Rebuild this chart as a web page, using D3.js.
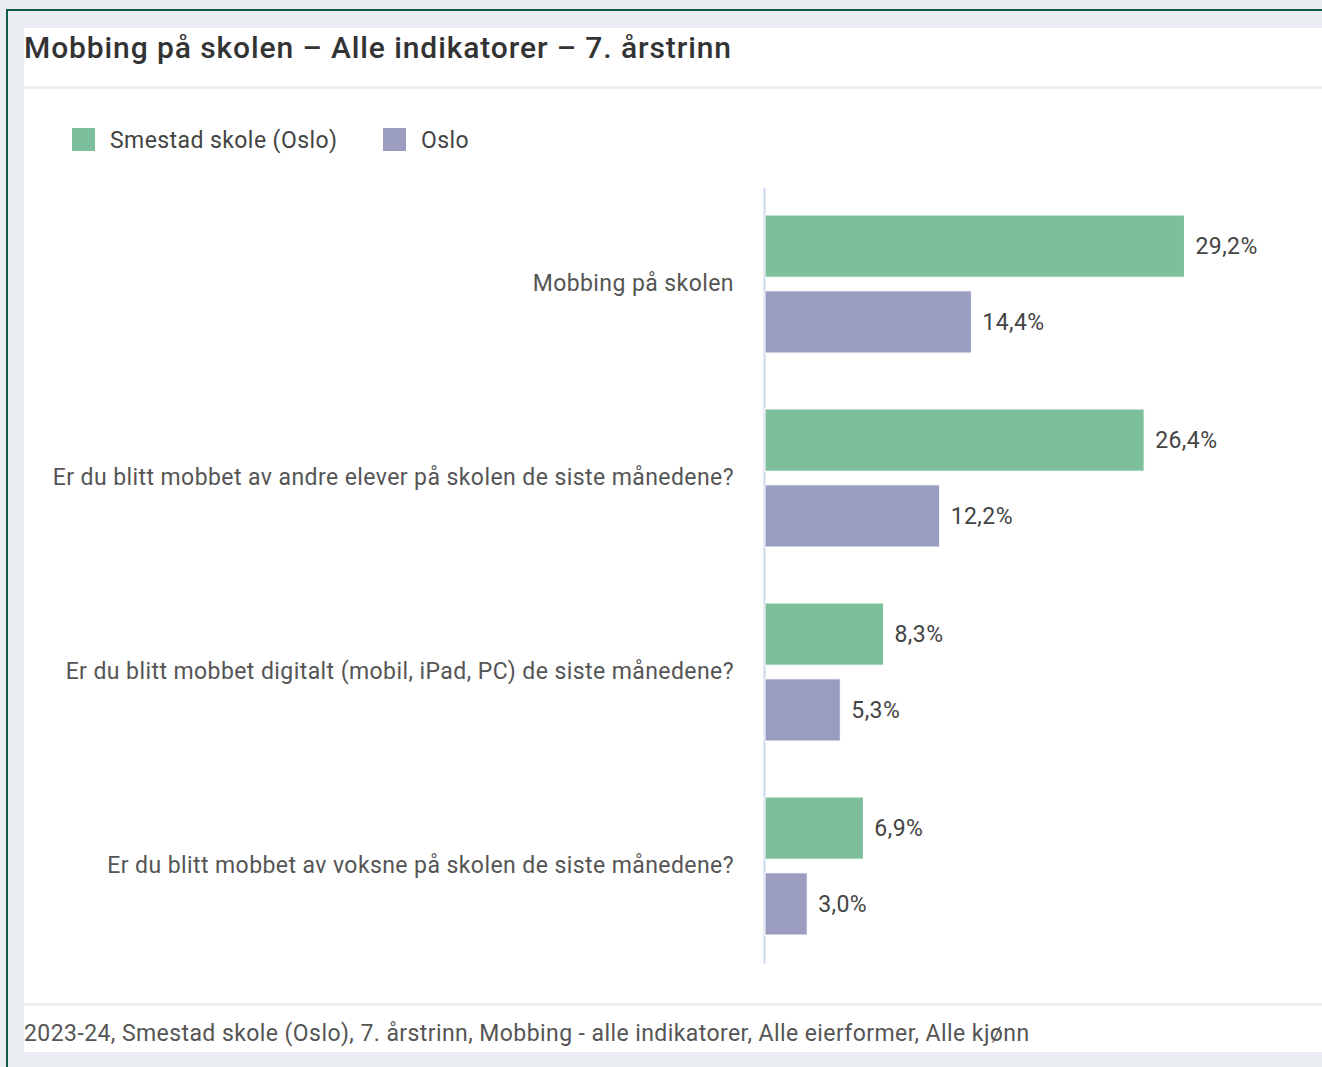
<!DOCTYPE html>
<meta charset="utf-8">
<script src="https://d3js.org/d3.v7.min.js"></script>
<style>
  body { margin: 0; background: #e9edf1; font-family: Roboto, "Noto Sans", sans-serif; }
</style>
<div id="chart"></div>
<script>
// data
var categories = [
  "Mobbing på skolen",
  "Er du blitt mobbet av andre elever på skolen de siste månedene?",
  "Er du blitt mobbet digitalt (mobil, iPad, PC) de siste månedene?",
  "Er du blitt mobbet av voksne på skolen de siste månedene?"
];
var seriesNames = ["Smestad skole (Oslo)", "Oslo"];
var schoolValues = [29.2, 26.4, 8.3, 6.9];
var osloValues = [14.4, 12.2, 5.3, 3.0];
var colors = ["#7dbf9b", "#9a9cc0"];

var titleText = "Mobbing på skolen – Alle indikatorer – 7. årstrinn";
var footerText = "2023-24, Smestad skole (Oslo), 7. årstrinn, Mobbing - alle indikatorer, Alle eierformer, Alle kjønn";

var W = 1322, H = 1067;
var ls = 0.42; // letter spacing for body text

var svg = d3.select("#chart").append("svg")
  .attr("width", W)
  .attr("height", H);

// background + frame
svg.append("rect").attr("width", W).attr("height", H).attr("fill", "#e9edf1");
svg.append("line").attr("x1", 7).attr("x2", 7).attr("y1", 9).attr("y2", H)
  .attr("stroke", "#0d5c4b").attr("stroke-width", 2);
svg.append("line").attr("x1", 6).attr("x2", W).attr("y1", 10).attr("y2", 10)
  .attr("stroke", "#0d5c4b").attr("stroke-width", 2);

// panels
svg.append("rect").attr("x", 24).attr("y", 28).attr("width", W - 24).attr("height", 58).attr("fill", "#fff");
svg.append("rect").attr("x", 24).attr("y", 86).attr("width", W - 24).attr("height", 3).attr("fill", "#eeeeee");
svg.append("rect").attr("x", 24).attr("y", 89).attr("width", W - 24).attr("height", 914).attr("fill", "#fff");
svg.append("rect").attr("x", 24).attr("y", 1003).attr("width", W - 24).attr("height", 3).attr("fill", "#eeeeee");
svg.append("rect").attr("x", 24).attr("y", 1006).attr("width", W - 24).attr("height", 46).attr("fill", "#fff");

// title
svg.append("text")
  .attr("x", 24).attr("y", 58)
  .attr("font-size", 30)
  .attr("font-weight", 500)
  .attr("letter-spacing", 0.9)
  .attr("fill", "#333")
  .text(titleText);

// footer
svg.append("text")
  .attr("x", 24).attr("y", 1041)
  .attr("font-size", 23)
  .attr("letter-spacing", ls)
  .attr("fill", "#555")
  .text(footerText);

// legend
var legend = svg.append("g");
var legendX = [72, 383];
seriesNames.forEach(function(name, i) {
  legend.append("rect")
    .attr("x", legendX[i]).attr("y", 128)
    .attr("width", 23).attr("height", 23)
    .attr("fill", colors[i]);
  legend.append("text")
    .attr("x", legendX[i] + 38).attr("y", 148)
    .attr("font-size", 23)
    .attr("letter-spacing", ls)
    .attr("fill", "#444")
    .text(name);
});

// scales
var x = d3.scaleLinear().domain([0, 35]).range([764, 1268]);
var y0 = d3.scaleBand().domain(categories).range([187, 963]).paddingInner(0).paddingOuter(0);
var y1 = d3.scaleBand().domain([0, 1]).range([28, 194 - 28]).paddingInner(0.18);

// category labels
var yAxis = svg.append("g")
  .attr("transform", "translate(764,0)")
  .call(d3.axisLeft(y0).tickSize(0).tickPadding(30));
yAxis.select(".domain").attr("stroke", "#ccd6eb").attr("stroke-width", 2);
yAxis.selectAll("text")
  .attr("font-family", "Roboto, sans-serif")
  .attr("font-size", 23)
  .attr("letter-spacing", ls)
  .attr("fill", "#555");

// bars
var rows = categories.map(function(c, i) {
  return { cat: c, vals: [schoolValues[i], osloValues[i]] };
});

var groups = svg.selectAll(".grp")
  .data(rows)
  .enter().append("g")
  .attr("transform", function(d) { return "translate(0," + y0(d.cat) + ")"; });

groups.selectAll("rect")
  .data(function(d) { return d.vals; })
  .enter().append("rect")
  .attr("x", x(0) + 1)
  .attr("y", function(d, i) { return y1(i); })
  .attr("width", function(d) { return x(d) - x(0) - 1; })
  .attr("height", y1.bandwidth())
  .attr("fill", function(d, i) { return colors[i]; })
  .attr("stroke", "#fff")
  .attr("stroke-width", 1);

groups.selectAll(".val")
  .data(function(d) { return d.vals; })
  .enter().append("text")
  .attr("class", "val")
  .attr("x", function(d) { return x(d) + 11; })
  .attr("y", function(d, i) { return y1(i) + y1.bandwidth() / 2; })
  .attr("dy", "0.35em")
  .attr("font-size", 23)
  .attr("letter-spacing", ls)
  .attr("fill", "#444")
  .text(function(d) { return d.toFixed(1).replace(".", ",") + "%"; });
</script>
